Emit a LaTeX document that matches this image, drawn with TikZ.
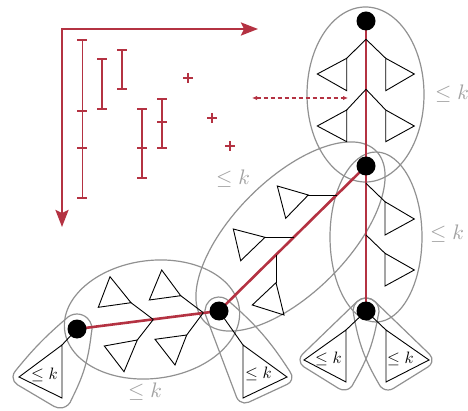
\documentclass[tikz,border=0pt]{standalone}
\usetikzlibrary{arrows.meta}
\definecolor{cred}{RGB}{180,50,66}
\definecolor{cgray}{RGB}{145,145,145}
\definecolor{clab}{RGB}{160,160,160}
\tikzset{axtip/.tip={Stealth[length=17pt,width=13pt,inset=3pt]},
 dtip/.tip={Latex[length=5pt,width=4.5pt]}}
\begin{document}
\begin{tikzpicture}[x=1pt,y=-1pt,
 redl/.style={draw=cred,line width=2.6pt},
 blob/.style={draw=cgray,line width=1.2pt},
 tree/.style={draw=black,line width=0.9pt},
 dot/.style={circle,fill=black,minimum size=19pt,inner sep=0pt},
 lbl/.style={text=clab,scale=2.1,inner sep=0pt},
 tlbl/.style={scale=1.65,inner sep=0pt},
 ebar/.style={draw=cred,line width=1.6pt},
 axis/.style={draw=cred,line width=2.5pt},
]
\useasboundingbox (0,0) rectangle (468,411);

% named points of the tree
\coordinate (T) at (366,21);
\coordinate (M) at (366,166);
\coordinate (BN) at (366,311);
\coordinate (B) at (219,311);
\coordinate (L) at (77,329);

% gray regions
\draw[blob] (365.5,94.5) ellipse [x radius=58.5, y radius=87.5];
\draw[blob] (376,237) ellipse [x radius=46, y radius=85];
\draw[blob, rotate around={45:(290.5,236.5)}] (290.5,236.5) ellipse [x radius=121, y radius=57];
\draw[blob, rotate around={7:(152,319.5)}] (152,319.5) ellipse [x radius=88, y radius=59];
% lobe round the left node
\draw[blob] (91.37,333.32) to[bend left=10] (71.49,399.45)
  arc[start angle=16.73, end angle=120.62, radius=12] -- (17.42,384.74)
  arc[start angle=120.62, end angle=224.18, radius=9] to[bend left=5] (66.24,318.55)
  arc[start angle=224.18, end angle=376.73, radius=15] -- cycle;
% lobe below the lower middle node
\draw[blob] (229.59,301.85) to[bend left=8] (290.05,371.77)
  arc[start angle=-40.85, end angle=65.10, radius=8] -- (248.79,402.16)
  arc[start angle=65.10, end angle=159.31, radius=9] -- (205.90,315.94)
  arc[start angle=159.31, end angle=319.15, radius=14] -- cycle;
% two lobes below the lower right node
\draw[blob] (378.21,315.46) to[bend left=10] (353.39,383.43)
  arc[start angle=20.05, end angle=121.83, radius=10] -- (303.78,366.80)
  arc[start angle=121.83, end angle=226.03, radius=8] -- (356.98,301.64)
  arc[start angle=226.03, end angle=380.05, radius=13] -- cycle;
\draw[blob] (375.02,301.64) -- (429.55,354.24)
  arc[start angle=-46.03, end angle=58.17, radius=8] -- (393.27,388.50)
  arc[start angle=58.17, end angle=159.95, radius=10] to[bend left=10] (353.79,315.46)
  arc[start angle=159.95, end angle=313.97, radius=13] -- cycle;

% axes
\coordinate (o) at (62,29);
\coordinate (xa) at (258,29);
\coordinate (ya) at (62,227);
\draw[axis, axtip-axtip] (xa) -- (o) -- (ya);

% error bars
\draw[ebar] (82.3,40) -- (82.3,198);
\foreach \y in {40,111,148,198} \draw[ebar] (77.3,\y) -- (87.3,\y);
\draw[ebar] (102,59) -- (102,109);
\foreach \y in {59,109} \draw[ebar] (97,\y) -- (107,\y);
\draw[ebar] (122,50) -- (122,89);
\foreach \y in {50,89} \draw[ebar] (117,\y) -- (127,\y);
\draw[ebar] (142,109) -- (142,178);
\foreach \y in {109,148,178} \draw[ebar] (137,\y) -- (147,\y);
\draw[ebar] (162,99) -- (162,148);
\foreach \y in {99,122,148} \draw[ebar] (157,\y) -- (167,\y);
\foreach \p in {(188,78),(212,118),(230,146)}
  \draw[ebar, line width=1.8pt] \p ++(-5,0) -- ++(10,0) \p ++(0,-5) -- ++(0,10);

% dashed arrow
\coordinate (dl) at (252,98);
\coordinate (dr) at (348,98);
\draw[cred, line width=1.2pt, dash pattern=on 4pt off 3pt, dtip-dtip] (dl) -- (dr);

% red path
\draw[redl] (T) -- (BN);
\draw[redl] (M) -- (B) -- (L);

% trees: top ellipse
\draw[tree] (366,39.3) -- (346.7,58.3) (366,39.3) -- (385.7,58.3);
\draw[tree] (346.7,58.3) -- (346.7,90.7) -- (317.3,74) -- cycle;
\draw[tree] (385.7,58.3) -- (385.7,90.7) -- (414.3,74) -- cycle;
\draw[tree] (366,89.3) -- (346.7,110) (366,89.3) -- (385.7,110);
\draw[tree] (346.7,110) -- (346.7,141.7) -- (317.3,126) -- cycle;
\draw[tree] (385.7,110) -- (385.7,141.7) -- (414.3,126) -- cycle;
% right ellipse
\draw[tree] (366,183.3) -- (385,201.7);
\draw[tree] (385,201.7) -- (385,235) -- (414.3,219) -- cycle;
\draw[tree] (366,235) -- (385,253.3);
\draw[tree] (385,253.3) -- (385,286) -- (414.3,270) -- cycle;
% diagonal ellipse
\draw[tree] (336.6,195) -- (308.3,195);
\draw[tree] (308.3,195) -- (277.3,186) -- (285.7,218.3) -- cycle;
\draw[tree] (293.7,237.3) -- (265,237.3);
\draw[tree] (265,237.3) -- (233.3,229) -- (240.7,260.7) -- cycle;
\draw[tree] (276,254.8) -- (276,282.7);
\draw[tree] (276,282.7) -- (252.3,305) -- (284,315) -- cycle;
% bottom ellipse
\draw[tree] (153.3,319.5) -- (131,302.7) (153.3,319.5) -- (137.3,340);
\draw[tree] (131,302.7) -- (110,276.7) -- (98.3,307.3) -- cycle;
\draw[tree] (137.3,340) -- (104.3,346) -- (124,371.7) -- cycle;
\draw[tree] (203.3,312.7) -- (180.7,295.7) (203.3,312.7) -- (186.7,335);
\draw[tree] (180.7,295.7) -- (161.7,270) -- (149.3,300) -- cycle;
\draw[tree] (186.7,335) -- (155,339.3) -- (175,365) -- cycle;
% lobes
\draw[tree] (L) -- (62,345);
\draw[tree] (62,345) -- (62,398) -- (19,377) -- cycle;
\draw[tree] (B) -- (243,345);
\draw[tree] (243,345) -- (243,398) -- (287,377) -- cycle;
\draw[tree] (BN) -- (346,330) (BN) -- (386,330);
\draw[tree] (346,330) -- (346,382) -- (304,360) -- cycle;
\draw[tree] (386,330) -- (386,382) -- (429,360) -- cycle;

% black nodes
\node[dot] (t) at (T) {};
\node[dot] (m) at (M) {};
\node[dot] (bn) at (BN) {};
\node[dot] (b) at (B) {};
\node[dot] (l) at (L) {};

% labels
\node[lbl] (k1) at (233,179) {$\leq k$};
\node[lbl] (k2) at (452,94) {$\leq k$};
\node[lbl] (k3) at (447,234) {$\leq k$};
\node[lbl] (k4) at (145,392) {$\leq k$};
\node[tlbl] (ka) at (44.5,375) {$\leq k$};
\node[tlbl] (kb) at (258.5,374) {$\leq k$};
\node[tlbl] (kc) at (328.5,359) {$\leq k$};
\node[tlbl] (kd) at (400.5,359) {$\leq k$};
\end{tikzpicture}
\end{document}
